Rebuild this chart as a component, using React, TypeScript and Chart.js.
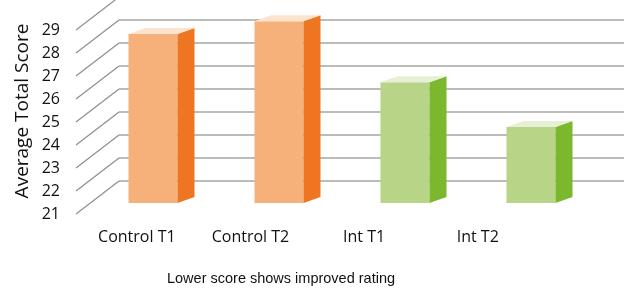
import React, { useEffect, useRef } from 'react';
import { Chart, registerables } from 'chart.js';

Chart.register(...registerables);

const categories = ['Control T1', 'Control T2', 'Int T1', 'Int T2'];
const scores = [28.35, 28.9, 26.25, 24.3];
const yTicks = [21, 22, 23, 24, 25, 26, 27, 28, 29];
const frontColors = ['#F6B17A', '#F6B17A', '#B8D487', '#B8D487'];
const sideColors = ['#EE7623', '#EE7623', '#7BB82D', '#7BB82D'];
const topColors = ['#FDE3CE', '#FDE3CE', '#E5F0D5', '#E5F0D5'];
const yTitle = 'Average Total Score';
const footnote = 'Lower score shows improved rating';

const FONT = "'Open Sans', 'Noto Sans', sans-serif";

const threeD = {
  id: 'threeD',
  beforeDatasetsDraw(chart: any) {
    const { ctx, chartArea, scales } = chart;
    const y = scales.y;
    const bx = chartArea.left + 29;
    const fx = chartArea.left - 14;
    const ex = chartArea.right + 30;
    ctx.save();
    for (const v of yTicks) {
      const p = y.getPixelForValue(v);
      const by = p - 22;
      const fy = p + 11;
      ctx.strokeStyle = '#8E8E8E';
      ctx.lineWidth = 1.2;
      ctx.beginPath();
      ctx.moveTo(fx, fy);
      ctx.lineTo(bx, by);
      ctx.stroke();
      ctx.strokeStyle = '#A6A6A6';
      ctx.lineWidth = 1.6;
      ctx.beginPath();
      ctx.moveTo(bx, by);
      ctx.lineTo(ex, by);
      ctx.stroke();
    }
    ctx.restore();
  },
  afterDatasetsDraw(chart: any) {
    const { ctx, chartArea, scales } = chart;
    const meta = chart.getDatasetMeta(0);
    const base = scales.y.getPixelForValue(scales.y.min);
    const dx = 17;
    const dy = -6;
    ctx.save();
    meta.data.forEach((bar: any, i: number) => {
      const { x, y, width } = bar.getProps(['x', 'y', 'width'], true);
      const l = x - width / 2;
      const r = x + width / 2;
      ctx.fillStyle = sideColors[i];
      ctx.beginPath();
      ctx.moveTo(r, y);
      ctx.lineTo(r + dx, y + dy);
      ctx.lineTo(r + dx, base + dy);
      ctx.lineTo(r, base);
      ctx.closePath();
      ctx.fill();
      ctx.fillStyle = topColors[i];
      ctx.beginPath();
      ctx.moveTo(l, y);
      ctx.lineTo(r, y);
      ctx.lineTo(r + dx, y + dy);
      ctx.lineTo(l + dx, y + dy);
      ctx.closePath();
      ctx.fill();
      // category label on the front floor edge (foreshortened)
      ctx.fillStyle = '#111111';
      ctx.font = `16px ${FONT}`;
      ctx.textAlign = 'center';
      ctx.textBaseline = 'middle';
      const lx = chartArea.left - 10 + 0.902 * (x - chartArea.left);
      ctx.fillText(categories[i], lx, base + 34);
    });
    ctx.fillStyle = '#111111';
    ctx.font = "14.5px 'Liberation Sans', Arial, sans-serif";
    ctx.textAlign = 'center';
    ctx.textBaseline = 'middle';
    ctx.fillText(footnote, chartArea.left + 191, chartArea.bottom + 76);
    ctx.restore();
  },
};

export default function App() {
  const canvasRef = useRef<HTMLCanvasElement | null>(null);

  useEffect(() => {
    document.body.style.margin = '0';
    const canvas = canvasRef.current;
    if (!canvas) return;
    const chart = new Chart(canvas, {
      type: 'bar',
      data: {
        labels: categories,
        datasets: [
          {
            data: scores,
            base: 21,
            backgroundColor: frontColors,
            borderWidth: 0,
            barPercentage: 49 / 126,
            categoryPercentage: 1,
          },
        ],
      },
      options: {
        animation: false,
        responsive: false,
        maintainAspectRatio: false,
        layout: { padding: { top: 19, bottom: 86, left: 0, right: 41 } },
        plugins: { legend: { display: false }, tooltip: { enabled: false } },
        scales: {
          x: { display: false },
          y: {
            min: 21,
            max: 29,
            afterFit: (scale: any) => {
              scale.width = 90;
              scale.paddingTop = 0;
              scale.paddingBottom = 0;
            },
            grid: { display: false, drawTicks: false },
            border: { display: false },
            ticks: {
              stepSize: 1,
              padding: 30,
              labelOffset: 11,
              color: '#111111',
              font: { family: FONT, size: 16 },
            },
            title: {
              display: true,
              text: yTitle,
              color: '#111111',
              font: { family: FONT, size: 19 },
              padding: { top: 11, bottom: 0 },
            },
          },
        },
      },
      plugins: [threeD],
    });
    return () => chart.destroy();
  }, []);

  return (
    <div style={{ width: 635, height: 289 }}>
      <canvas ref={canvasRef} width={635} height={289} />
    </div>
  );
}
